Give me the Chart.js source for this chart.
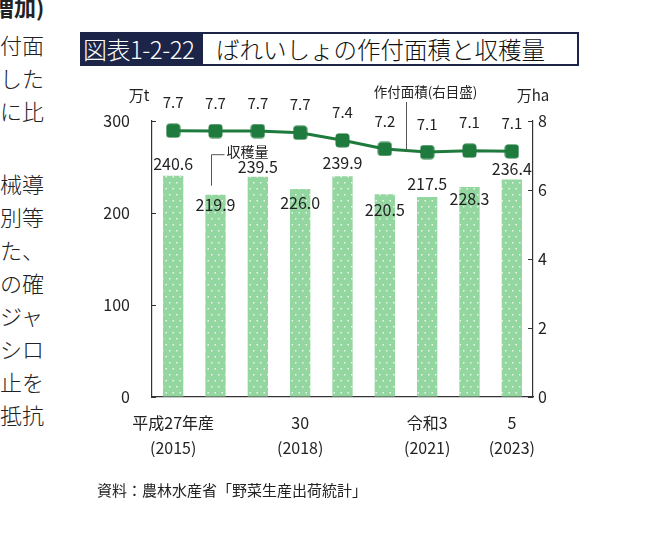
<!DOCTYPE html>
<html>
<head>
<meta charset="utf-8">
<script src="https://cdn.jsdelivr.net/npm/chart.js@4.4.1/dist/chart.umd.min.js"></script>
<style>
  body { margin: 0; background: #fff; font-family: 'Noto Sans CJK JP', sans-serif; color: #222; }
  #page { position: relative; width: 653px; height: 544px; overflow: hidden; }
  #wrap { position: absolute; left: 0; top: 0; width: 653px; height: 544px; }
  .side { position: absolute; left: 0; font-size: 22px; line-height: 22px; color: #222; font-weight: 300; }
  #title { position: absolute; left: 80px; top: 32px; width: 495px; height: 30px; border: 2px solid #1c2448; background: #fff; }
  #title .num { position: absolute; left: 0; top: 0; width: 121px; height: 30px; background: #1c2448; color: #fff; font-size: 24px; line-height: 30px; padding-left: 1px; box-sizing: border-box; font-weight: 300; letter-spacing: -0.5px; }
  #title .txt { position: absolute; left: 134px; top: 0; font-size: 23.5px; line-height: 30px; color: #111; font-weight: 300; }
  #source { position: absolute; left: 97px; top: 479px; font-size: 15px; color: #222; }
</style>
</head>
<body>
<div id="page">
  <div class="side" style="top:-5px;left:-8px;font-weight:700;">増加)</div>
  <div class="side" style="top:33px;">付面</div>
  <div class="side" style="top:66px;">した</div>
  <div class="side" style="top:99px;">に比</div>
  <div class="side" style="top:172px;">械導</div>
  <div class="side" style="top:205px;">別等</div>
  <div class="side" style="top:238px;">た、</div>
  <div class="side" style="top:271px;">の確</div>
  <div class="side" style="top:304px;">ジャ</div>
  <div class="side" style="top:337px;">シロ</div>
  <div class="side" style="top:370px;">止を</div>
  <div class="side" style="top:403px;">抵抗</div>

  <div id="title"><span class="num">図表1-2-22</span><span class="txt">ばれいしょの作付面積と収穫量</span></div>

  <div id="wrap"><canvas id="mycanvas"></canvas></div>

  <div id="source">資料：農林水産省「野菜生産出荷統計」</div>
</div>

<script>
// data
var years = ['2015', '2016', '2017', '2018', '2019', '2020', '2021', '2022', '2023'];
var tickLabels = [['平成27年産', '(2015)'], '', '', ['30', '(2018)'], '', '', ['令和3', '(2021)'], '', ['5', '(2023)']];
var harvest = [240.6, 219.9, 239.5, 226.0, 239.9, 220.5, 217.5, 228.3, 236.4]; // 万t
var area = [7.72, 7.71, 7.71, 7.66, 7.44, 7.19, 7.10, 7.14, 7.12];           // 万ha

// label nudges (px), alternating up / down like the original
var barLabelShift = [-12, 10, -10, 14, -13, 16, -13, 12, -11];

Chart.defaults.font.family = "'Noto Sans CJK JP', sans-serif";
Chart.defaults.color = '#222';

// dotted bar fill
var tile = document.createElement('canvas');
tile.width = 7; tile.height = 12;
var tc = tile.getContext('2d');
tc.fillStyle = '#93d6a0';
tc.fillRect(0, 0, 7, 12);
tc.fillStyle = 'rgba(255,255,255,0.8)';
tc.fillRect(1, 2, 1.5, 1.5);
tc.fillRect(4.5, 8, 1.5, 1.5);
var dots = document.createElement('canvas').getContext('2d').createPattern(tile, 'repeat');

// rounded square marker
var marker = document.createElement('canvas');
marker.width = 15; marker.height = 15;
var mc = marker.getContext('2d');
mc.fillStyle = '#1f7a3d';
mc.beginPath();
mc.roundRect(0.5, 0.5, 14, 14, 3.5);
mc.fill();

var extras = {
  id: 'extras',
  afterDatasetsDraw: function(chart) {
    var ctx = chart.ctx;
    var ca = chart.chartArea;
    var pts = chart.getDatasetMeta(0).data;
    var bars = chart.getDatasetMeta(1).data;
    ctx.save();
    ctx.fillStyle = '#222';
    ctx.textAlign = 'center';
    ctx.textBaseline = 'middle';

    // bar values
    ctx.font = "16px 'Noto Sans CJK JP'";
    bars.forEach(function(b, i) {
      ctx.fillText(harvest[i].toFixed(1), b.x, b.y + barLabelShift[i]);
    });
    // line values
    ctx.font = "15px 'Noto Sans CJK JP'";
    pts.forEach(function(p, i) {
      ctx.fillText(area[i].toFixed(1), p.x, p.y - 28);
    });

    // inward ticks
    ctx.strokeStyle = '#333';
    ctx.lineWidth = 1;
    var y = chart.scales.y, y1 = chart.scales.y1;
    y.ticks.forEach(function(t) {
      var py = Math.round(y.getPixelForValue(t.value)) + 0.5;
      ctx.beginPath(); ctx.moveTo(ca.left, py); ctx.lineTo(ca.left + 4, py); ctx.stroke();
    });
    y1.ticks.forEach(function(t) {
      var py = Math.round(y1.getPixelForValue(t.value)) + 0.5;
      ctx.beginPath(); ctx.moveTo(ca.right - 5, py); ctx.lineTo(ca.right, py); ctx.stroke();
    });

    // callouts
    ctx.strokeStyle = '#555';
    var b2 = bars[1];
    var lx = Math.round(b2.x - 5) + 0.5;
    ctx.beginPath();
    ctx.moveTo(lx, b2.y - 9);
    ctx.lineTo(lx, b2.y - 40);
    ctx.lineTo(lx + 13, b2.y - 40);
    ctx.stroke();
    ctx.font = "14px 'Noto Sans CJK JP'";
    ctx.textAlign = 'left';
    ctx.fillText('収穫量', lx + 15, b2.y - 43);

    var mx = Math.round((pts[5].x + pts[6].x) / 2) + 0.5;
    ctx.beginPath();
    ctx.moveTo(mx, (pts[5].y + pts[6].y) / 2);
    ctx.lineTo(mx, ca.top - 19);
    ctx.stroke();
    ctx.textAlign = 'center';
    ctx.font = "13.5px 'Noto Sans CJK JP'";
    ctx.fillText('作付面積(右目盛)', mx + 19, ca.top - 29);

    // units
    ctx.font = "15px 'Noto Sans CJK JP'";
    ctx.fillText('万t', ca.left - 13, ca.top - 26);
    ctx.fillText('万ha', ca.right + 0, ca.top - 26);
    ctx.restore();
  }
};

var ctx = document.getElementById('mycanvas');
new Chart(ctx, {
  data: {
    labels: years,
    datasets: [
      {
        type: 'line',
        label: '作付面積',
        data: area,
        yAxisID: 'y1',
        borderColor: '#1f7a3d',
        borderWidth: 3,
        pointStyle: marker,
        pointRadius: 7,
        tension: 0,
        order: 0
      },
      {
        type: 'bar',
        label: '収穫量',
        data: harvest,
        yAxisID: 'y',
        backgroundColor: dots,
        barPercentage: 0.48,
        categoryPercentage: 1,
        order: 1
      }
    ]
  },
  options: {
    responsive: true,
    maintainAspectRatio: false,
    animation: false,
    layout: { padding: { left: 92, right: 80, top: 121, bottom: 87 } },
    plugins: { legend: { display: false }, tooltip: { enabled: false } },
    scales: {
      x: {
        grid: { drawOnChartArea: false, drawTicks: false },
        border: { color: '#333', width: 1.2 },
        ticks: {
          autoSkip: false, maxRotation: 0, padding: 13,
          font: { size: 16, lineHeight: 1.6 },
          callback: function(v, i) { return tickLabels[i]; }
        },
        afterFit: function(s) { s.height = 60; }
      },
      y: {
        position: 'left', min: 0, max: 300,
        grid: { drawOnChartArea: false, drawTicks: false },
        border: { color: '#333', width: 1.2 },
        ticks: { stepSize: 100, padding: 22, font: { size: 16 } },
        afterFit: function(s) { s.width = 60; }
      },
      y1: {
        position: 'right', min: 0, max: 8,
        grid: { drawOnChartArea: false, drawTicks: false },
        border: { color: '#333', width: 1.2 },
        ticks: { stepSize: 2, padding: 5, font: { size: 16 } },
        afterFit: function(s) { s.width = 40; }
      }
    }
  },
  plugins: [extras]
});
</script>
</body>
</html>
